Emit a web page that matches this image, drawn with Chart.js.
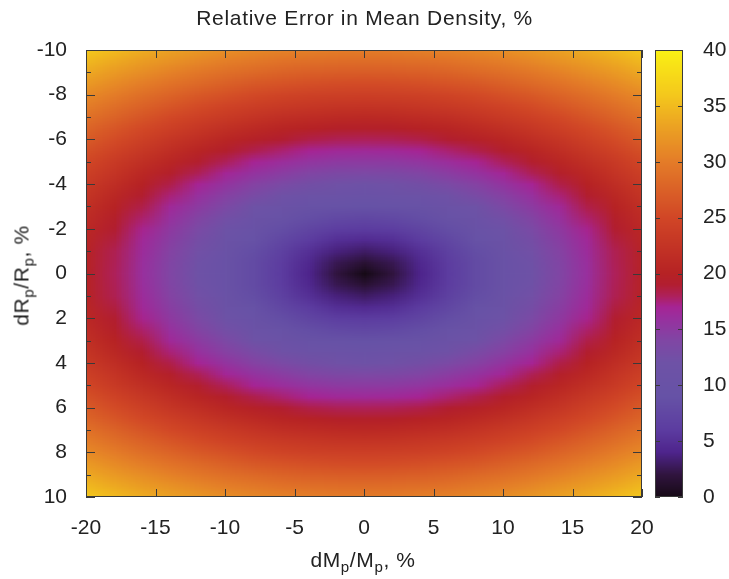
<!DOCTYPE html>
<html>
<head>
<meta charset="utf-8">
<script src="https://cdn.jsdelivr.net/npm/chart.js@4.4.1/dist/chart.umd.min.js"></script>
<style>
  html, body { margin: 0; padding: 0; background: #fff; }
  #wrap { position: relative; width: 729px; height: 579px; font-family: "Liberation Sans", Arial, Helvetica, sans-serif; color: #222; }
  #chart { position: absolute; left: 0; top: 0; }
  .lbl { position: absolute; white-space: nowrap; text-align: center; }
  .lbl sub { font-size: 0.72em; vertical-align: -0.32em; line-height: 0; }
  #title { left: 0; width: 729px; top: 7px; font-size: 21px; line-height: 21px; letter-spacing: 0.7px; }
  #xlabel { left: 213px; width: 300px; top: 549px; font-size: 21px; line-height: 21px; letter-spacing: 0.6px; }
  #ylabel { left: -129px; width: 300px; top: 265px; font-size: 21px; line-height: 21px; letter-spacing: 0.6px; transform: rotate(-90deg); transform-origin: 50% 50%; }
</style>
</head>
<body>
<div id="wrap">
  <canvas id="chart" width="729" height="579"></canvas>
  <div id="title" class="lbl">Relative Error in Mean Density, %</div>
  <div id="xlabel" class="lbl">dM<sub>p</sub>/M<sub>p</sub>, %</div>
  <div id="ylabel" class="lbl">dR<sub>p</sub>/R<sub>p</sub>, %</div>
</div>
<script>
// ------------------------------------------------------------
// data: one quadrant of the map (|dMp/Mp| across, |dRp/Rp| down),
// the other three quadrants are its mirror images
// ------------------------------------------------------------
const dMValues = [0, 2, 4, 6, 8, 10, 12, 14, 16, 18, 20];
const dRValues = [0, 0.5, 1, 1.5, 2, 2.5, 3, 3.5, 4, 4.5, 5, 5.5, 6, 6.5, 7, 7.5, 8, 8.5, 9, 9.5, 10];

const errorQuadrant = [
  [ 0.0,  2.0,  4.0,  6.0,  8.0, 10.0, 12.0, 14.0, 16.0, 18.0, 20.0],
  [ 1.5,  2.5,  4.3,  6.2,  8.1, 10.1, 12.1, 14.1, 16.1, 18.1, 20.1],
  [ 3.0,  3.6,  5.0,  6.7,  8.5, 10.4, 12.4, 14.3, 16.3, 18.2, 20.2],
  [ 4.5,  4.9,  6.0,  7.5,  9.2, 11.0, 12.8, 14.7, 16.6, 18.6, 20.5],
  [ 6.0,  6.3,  7.2,  8.5, 10.0, 11.7, 13.4, 15.2, 17.1, 19.0, 20.9],
  [ 7.5,  7.8,  8.5,  9.6, 11.0, 12.5, 14.2, 15.9, 17.7, 19.5, 21.4],
  [ 9.0,  9.2,  9.8, 10.8, 12.0, 13.5, 15.0, 16.6, 18.4, 20.1, 21.9],
  [10.5, 10.7, 11.2, 12.1, 13.2, 14.5, 15.9, 17.5, 19.1, 20.8, 22.6],
  [12.0, 12.2, 12.6, 13.4, 14.4, 15.6, 17.0, 18.4, 20.0, 21.6, 23.3],
  [13.5, 13.6, 14.1, 14.8, 15.7, 16.8, 18.1, 19.4, 20.9, 22.5, 24.1],
  [15.0, 15.1, 15.5, 16.2, 17.0, 18.0, 19.2, 20.5, 21.9, 23.4, 25.0],
  [16.5, 16.6, 17.0, 17.6, 18.3, 19.3, 20.4, 21.6, 23.0, 24.4, 25.9],
  [18.0, 18.1, 18.4, 19.0, 19.7, 20.6, 21.6, 22.8, 24.1, 25.5, 26.9],
  [19.5, 19.6, 19.9, 20.4, 21.1, 21.9, 22.9, 24.0, 25.2, 26.5, 27.9],
  [21.0, 21.1, 21.4, 21.8, 22.5, 23.3, 24.2, 25.2, 26.4, 27.7, 29.0],
  [22.5, 22.6, 22.9, 23.3, 23.9, 24.6, 25.5, 26.5, 27.6, 28.8, 30.1],
  [24.0, 24.1, 24.3, 24.7, 25.3, 26.0, 26.8, 27.8, 28.8, 30.0, 31.2],
  [25.5, 25.6, 25.8, 26.2, 26.7, 27.4, 28.2, 29.1, 30.1, 31.2, 32.4],
  [27.0, 27.1, 27.3, 27.7, 28.2, 28.8, 29.5, 30.4, 31.4, 32.4, 33.6],
  [28.5, 28.6, 28.8, 29.1, 29.6, 30.2, 30.9, 31.8, 32.7, 33.7, 34.8],
  [30.0, 30.1, 30.3, 30.6, 31.0, 31.6, 32.3, 33.1, 34.0, 35.0, 36.1],
];

const xRange = [-20, 20];
const yRange = [-10, 10];
const colorRange = [0, 40];

// colour map of the colour bar (value -> rgb)
const paletteStops = [
  [0,  [22, 10, 22]],
  [2,  [48, 20, 62]],
  [4,  [78, 36, 140]],
  [6,  [92, 60, 160]],
  [9,  [102, 82, 166]],
  [12, [110, 82, 166]],
  [14, [128, 70, 164]],
  [16, [152, 48, 158]],
  [17, [166, 36, 148]],
  [18, [174, 32, 90]],
  [19, [178, 30, 48]],
  [20, [182, 34, 36]],
  [25, [209, 70, 38]],
  [30, [228, 124, 40]],
  [33, [235, 160, 35]],
  [36, [244, 200, 28]],
  [40, [250, 240, 20]],
];

function paletteColor(v) {
  if (v <= paletteStops[0][0]) return paletteStops[0][1];
  for (let i = 1; i < paletteStops.length; i++) {
    const [v1, c1] = paletteStops[i];
    if (v <= v1) {
      const [v0, c0] = paletteStops[i - 1];
      const t = (v - v0) / (v1 - v0);
      return c0.map((c, k) => Math.round(c + (c1[k] - c) * t));
    }
  }
  return paletteStops[paletteStops.length - 1][1];
}

// ------------------------------------------------------------
// full grid (mirror the quadrant)
// ------------------------------------------------------------
const xNodes = dMValues.slice(1).map((v) => -v).reverse().concat(dMValues);
const yNodes = dRValues.slice(1).map((v) => -v).reverse().concat(dRValues);

const gridPoints = [];
yNodes.forEach((y) => {
  const row = errorQuadrant[dRValues.indexOf(Math.abs(y))];
  xNodes.forEach((x) => {
    gridPoints.push({ x, y, v: row[dMValues.indexOf(Math.abs(x))] });
  });
});

// ------------------------------------------------------------
// plugins
// ------------------------------------------------------------
const heatmapPlugin = {
  id: "heatmap",
  beforeDatasetsDraw(chart) {
    const { ctx, chartArea: a, scales } = chart;
    const pts = chart.data.datasets[0].data;
    const nx = xNodes.length;
    const ny = yNodes.length;

    // one pixel per grid cell, scaled up (smoothed) onto the plot area
    const off = document.createElement("canvas");
    off.width = nx;
    off.height = ny;
    const octx = off.getContext("2d");
    const img = octx.createImageData(nx, ny);
    pts.forEach((p) => {
      const i = xNodes.indexOf(p.x);
      const j = yNodes.indexOf(p.y);
      const [r, g, b] = paletteColor(p.v);
      const k = (j * nx + i) * 4;
      img.data[k] = r;
      img.data[k + 1] = g;
      img.data[k + 2] = b;
      img.data[k + 3] = 255;
    });
    octx.putImageData(img, 0, 0);

    const x0 = scales.x.getPixelForValue(xNodes[0]);
    const x1 = scales.x.getPixelForValue(xNodes[nx - 1]);
    const y0 = scales.y.getPixelForValue(yNodes[0]);
    const y1 = scales.y.getPixelForValue(yNodes[ny - 1]);
    const dx = (x1 - x0) / (nx - 1);
    const dy = (y1 - y0) / (ny - 1);

    ctx.save();
    ctx.beginPath();
    ctx.rect(a.left, a.top, a.width, a.height);
    ctx.clip();
    ctx.imageSmoothingEnabled = true;
    ctx.imageSmoothingQuality = "low";
    ctx.drawImage(off, x0 - dx / 2, y0 - dy / 2, x1 - x0 + dx, y1 - y0 + dy);
    ctx.restore();
  },
};

function line(ctx, x0, y0, x1, y1) {
  ctx.beginPath();
  ctx.moveTo(x0, y0);
  ctx.lineTo(x1, y1);
  ctx.stroke();
}

const frameTicksPlugin = {
  id: "frameTicks",
  afterDraw(chart) {
    const { ctx, chartArea: a, scales } = chart;
    ctx.save();
    ctx.strokeStyle = "#3a3a3a";
    ctx.lineWidth = 1;

    // x ticks (bottom + top, inward)
    scales.x.ticks.forEach((t) => {
      const px = Math.round(scales.x.getPixelForValue(t.value)) + 0.5;
      line(ctx, px, a.bottom, px, a.bottom - 8);
      line(ctx, px, a.top, px, a.top + 8);
    });

    // y ticks (left + right, inward), minor halfway
    const yt = scales.y.ticks.map((t) => t.value);
    yt.forEach((v, i) => {
      const py = Math.round(scales.y.getPixelForValue(v)) + 0.5;
      line(ctx, a.left, py, a.left + 9, py);
      line(ctx, a.right, py, a.right - 9, py);
      if (i < yt.length - 1) {
        const pm = Math.round(scales.y.getPixelForValue((v + yt[i + 1]) / 2)) + 0.5;
        line(ctx, a.left, pm, a.left + 5, pm);
        line(ctx, a.right, pm, a.right - 5, pm);
      }
    });

    ctx.strokeRect(a.left + 0.5, a.top + 0.5, a.width - 1, a.height - 1);

    // colour bar
    const c = scales.c;
    const cbLeft = a.right + 13;
    const cbWidth = 28;
    const top = Math.round(c.getPixelForValue(colorRange[1]));
    const bottom = Math.round(c.getPixelForValue(colorRange[0]));
    for (let py = top; py < bottom; py++) {
      const [r, g, b] = paletteColor(c.getValueForPixel(py + 0.5));
      ctx.fillStyle = `rgb(${r},${g},${b})`;
      ctx.fillRect(cbLeft, py, cbWidth, 1);
    }
    ctx.strokeRect(cbLeft + 0.5, top + 0.5, cbWidth - 1, bottom - top - 1);
    c.ticks.forEach((t) => {
      const py = Math.round(c.getPixelForValue(t.value)) + 0.5;
      line(ctx, cbLeft, py, cbLeft + 5, py);
      line(ctx, cbLeft + cbWidth, py, cbLeft + cbWidth - 5, py);
    });

    ctx.restore();
  },
};

// fixed axis box sizes; the label overhang must not push the plot area
function fixBox(w, h) {
  return (s) => {
    if (w !== null) s.width = w;
    if (h !== null) s.height = h;
    s.paddingTop = 0;
    s.paddingBottom = 0;
    s.paddingLeft = 0;
    s.paddingRight = 0;
  };
}

// ------------------------------------------------------------
// chart
// ------------------------------------------------------------
const tickFont = { family: '"Liberation Sans", Arial, Helvetica, sans-serif', size: 21 };

new Chart(document.getElementById("chart"), {
  type: "scatter",
  data: {
    datasets: [{ data: gridPoints, pointRadius: 0, pointHoverRadius: 0 }],
  },
  options: {
    responsive: false,
    devicePixelRatio: 1,
    animation: false,
    layout: { padding: { top: 50, right: 0, bottom: 0, left: 0 } },
    plugins: { legend: { display: false }, tooltip: { enabled: false } },
    events: [],
    scales: {
      x: {
        type: "linear",
        position: "bottom",
        min: xRange[0],
        max: xRange[1],
        ticks: { stepSize: 5, font: tickFont, color: "#222", padding: 19, maxRotation: 0 },
        grid: { display: false, drawTicks: false },
        border: { display: false },
        afterFit: fixBox(null, 82),
      },
      y: {
        type: "linear",
        position: "left",
        reverse: true,
        min: yRange[0],
        max: yRange[1],
        ticks: { stepSize: 2, font: tickFont, color: "#222", padding: 19 },
        grid: { display: false, drawTicks: false },
        border: { display: false },
        afterFit: fixBox(86, null),
      },
      c: {
        type: "linear",
        position: "right",
        min: colorRange[0],
        max: colorRange[1],
        ticks: { stepSize: 5, font: tickFont, color: "#222", padding: 61 },
        grid: { display: false, drawTicks: false },
        border: { display: false },
        afterFit: fixBox(87, null),
      },
    },
  },
  plugins: [heatmapPlugin, frameTicksPlugin],
});
</script>
</body>
</html>
